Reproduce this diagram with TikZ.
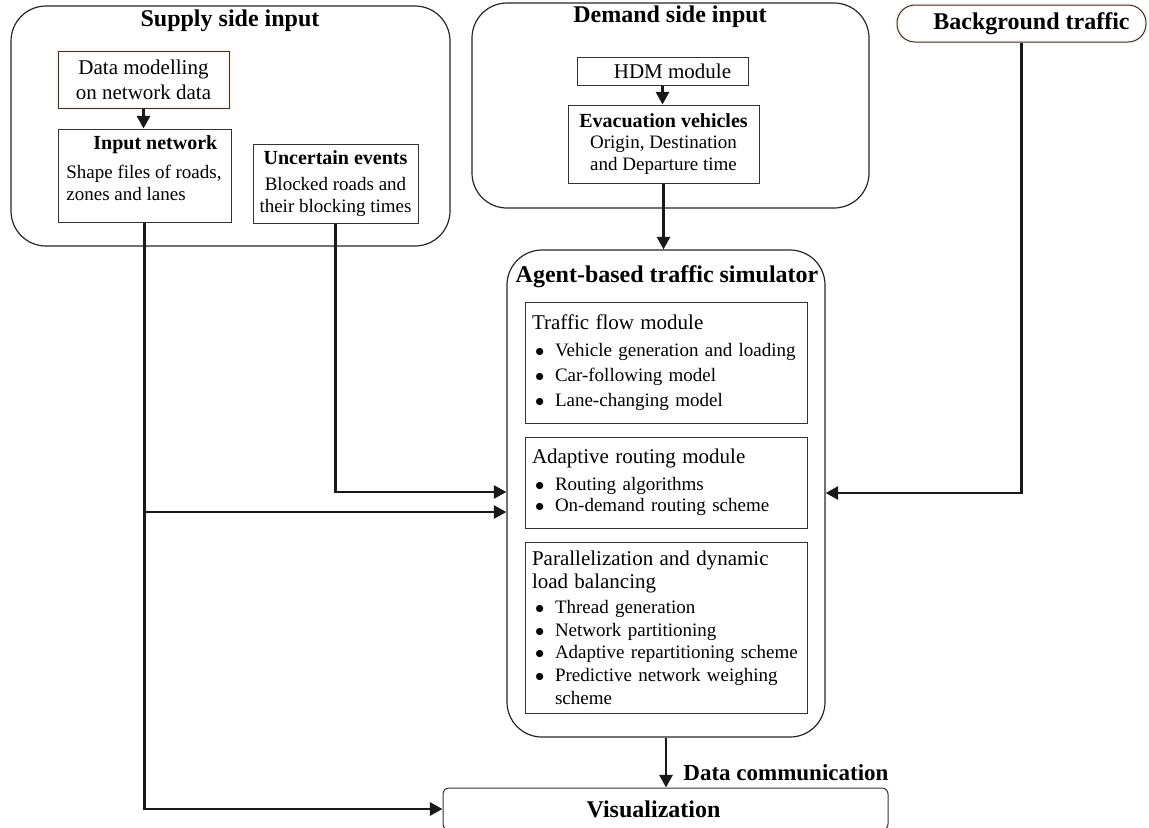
\documentclass[tikz,border=0pt]{standalone}
\usepackage{fontspec}
\setmainfont{Liberation Serif}
\usetikzlibrary{arrows.meta}
\newcommand{\itm}{\hspace*{1.5pt}\makebox[10pt][l]{$\bullet$}}

\begin{document}
\begin{tikzpicture}[x=0.5pt,y=-0.5pt,
    groupbox/.style={draw=black!85, line width=0.6pt, rounded corners=17.5pt},
    modbox/.style={draw=black!80, line width=0.5pt, inner sep=0pt, align=center},
    glow/.style={preaction={draw=orange!8, line width=2pt}},
    grouptitle/.style={inner sep=0pt, font=\fontsize{12}{14}\selectfont\bfseries},
    bodytext/.style={font=\fontsize{9.5}{10.8}\selectfont},
    flowline/.style={line width=1.4pt, draw=black!90, -{Triangle[length=6.3pt,width=6.5pt]}}]
    \useasboundingbox (0,0) rectangle (1149,827);
    \clip (0,0) rectangle (1149,827);

    % supply side
    \node[groupbox, minimum width=219.5pt, minimum height=120pt] (supply) at (230.5,126) {};
    \node[grouptitle] (supplytitle) at (230,21) {Supply side input};
    \node[modbox, glow, minimum width=85.5pt, minimum height=28.5pt,
          font=\fontsize{10.5}{12.5}\selectfont] (datamod) at (143.5,79.5)
          {Data modelling\\on network data};
    \node[modbox, minimum width=86.5pt, minimum height=46.5pt] (inputnet) at (144.5,175.5) {};
    \node[bodytext, anchor=north west, inner sep=0pt, align=left] (inputnettxt) at (66,135)
          {\hspace*{13.5pt}{\fontsize{10}{11}\selectfont\bfseries Input network}\\[4pt]
           Shape files of roads,\\zones and lanes};
    \node[modbox, bodytext, minimum width=82.5pt, minimum height=39.5pt] (uncertain) at (335.5,183.5)
          {{\fontsize{10}{11}\selectfont\bfseries Uncertain events}\\[2.5pt]
           Blocked roads and\\their blocking times};

    % demand side
    \node[groupbox, minimum width=198.5pt, minimum height=102.5pt] (demand) at (670.5,105.5) {};
    \node[grouptitle] (demandtitle) at (670,17) {Demand side input};
    \node[modbox, minimum width=85.5pt, minimum height=14pt,
          font=\fontsize{10.5}{12}\selectfont] (hdm) at (662.5,71) {\hspace*{10pt}HDM module};
    \node[modbox, bodytext, minimum width=95.5pt, minimum height=39pt] (evac) at (663.5,144)
          {{\fontsize{10}{11}\selectfont\bfseries Evacuation vehicles}\\
           Origin, Destination\\and Departure time};

    % background traffic
    \node[modbox, glow, rounded corners=9pt, minimum width=124.5pt, minimum height=18.5pt,
          font=\fontsize{12}{14}\selectfont\bfseries] (bgtraffic) at (1021.5,23.5)
          {\hspace*{10pt}Background traffic};

    % simulator
    \node[groupbox, minimum width=159pt, minimum height=243.5pt] (agent) at (666,493.5) {};
    \node[grouptitle] (agenttitle) at (667,277) {Agent-based traffic simulator};
    \node[modbox, minimum width=141pt, minimum height=60.5pt, text width=134pt, align=left,
          font=\fontsize{9.5}{12.5}\selectfont] (flowmod) at (666,362.5)
          {{\fontsize{10.5}{12}\selectfont Traffic flow module}\\[1pt]
           \itm Vehicle generation and loading\\
           \itm Car-following model\\
           \itm Lane-changing model};
    \node[modbox, minimum width=141pt, minimum height=45.5pt, text width=134pt, align=left,
          font=\fontsize{9.5}{10.5}\selectfont] (routemod) at (666,482.5)
          {{\fontsize{10.5}{12}\selectfont Adaptive routing module}\\[3pt]
           \itm Routing algorithms\\
           \itm On-demand routing scheme};
    \node[modbox, minimum width=141pt, minimum height=85.5pt, text width=134pt, align=left,
          font=\fontsize{9.5}{11.3}\selectfont] (parallel) at (666,627.5)
          {{\fontsize{10.5}{12}\selectfont Parallelization and dynamic}\\
           {\fontsize{10.5}{12}\selectfont load balancing}\\[1.5pt]
           \itm Thread generation\\
           \itm Network partitioning\\
           \itm Adaptive repartitioning scheme\\
           \itm Predictive network weighing\\
           \hspace*{11.5pt}scheme};

    % output
    \node[modbox, rounded corners=3pt, minimum width=222.5pt, minimum height=21pt,
          font=\fontsize{12}{14}\selectfont\bfseries] (visual) at (665.5,809)
          {Visualization\hspace*{12pt}};

    % connectors
    \coordinate (split) at (inputnet.south |- 0,512);
    \coordinate (leftin) at (agent.west |- 0,492);
    \coordinate (rightin) at (agent.east |- 0,493);
    \draw[flowline] (datamod.south) -- (datamod.south |- inputnet.north);
    \draw[flowline] (hdm.south) -- (hdm.south |- evac.north);
    \draw[flowline] (evac.south) -- (evac.south |- agent.north);
    \draw[flowline] (inputnet.south) |- (visual.west);
    \draw[flowline] (split) -- (split -| agent.west);
    \draw[flowline] (uncertain.south) |- (leftin);
    \draw[flowline] (bgtraffic.south) |- (rightin);
    \draw[flowline] (agent.south) -- (agent.south |- visual.north)
        node[pos=0.7, right, inner xsep=8pt, font=\fontsize{11.5}{13}\selectfont\bfseries] (datacomm)
        {Data communication};
\end{tikzpicture}
\end{document}
